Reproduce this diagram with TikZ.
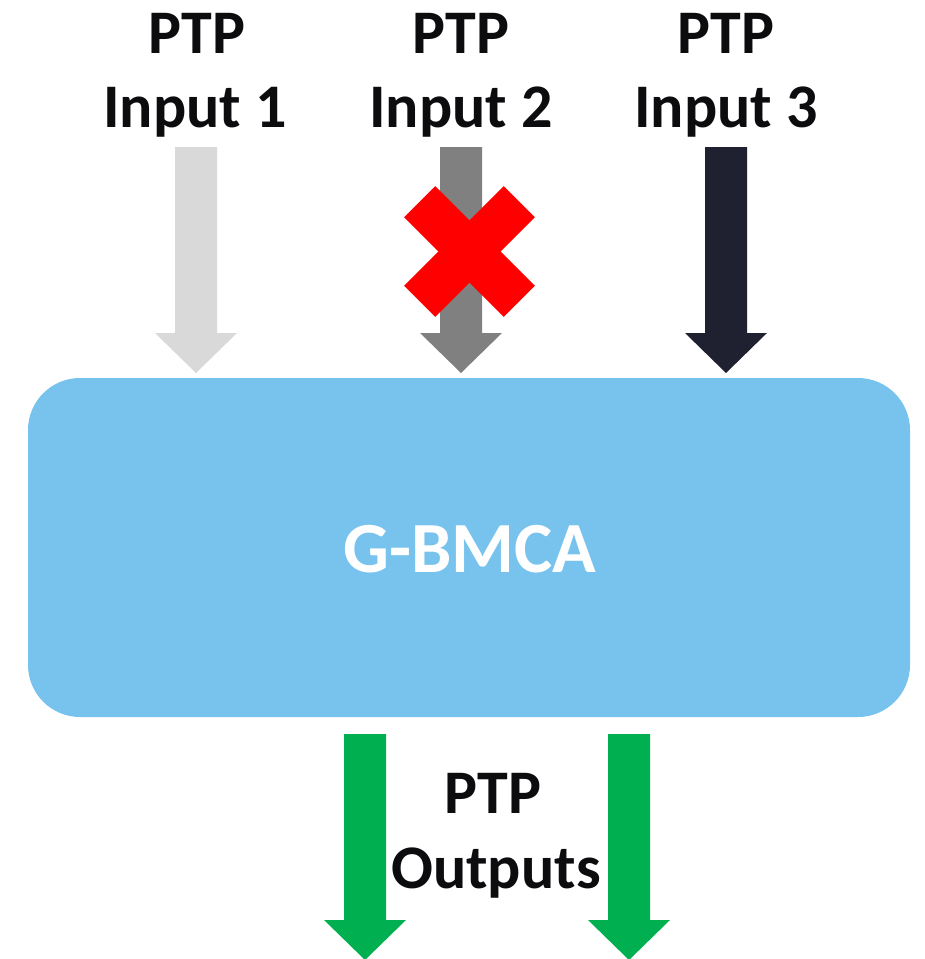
\documentclass[tikz,border=0pt]{standalone}
\usepackage{fontspec}
\setmainfont{Carlito}
\definecolor{lgray}{HTML}{D9D9D9}
\definecolor{mgray}{HTML}{808080}
\definecolor{dnavy}{HTML}{1F2130}
\definecolor{xred}{HTML}{FF0000}
\definecolor{boxblue}{HTML}{78C3ED}
\definecolor{xgreen}{HTML}{00B050}
\definecolor{txt}{HTML}{0C0C0F}
\begin{document}
\begin{tikzpicture}[x=1pt,y=-1pt,
  lbl/.style={font=\fontsize{62}{74}\selectfont\bfseries, text=txt, inner sep=0pt, anchor=base},
  blockarrow/.pic={\fill (-21,0) -- (21,0) -- (21,186) -- (41,186) -- (0,226) -- (-41,186) -- (-21,186) -- cycle;},
  mainbox/.style={fill=boxblue, rounded corners=52pt, minimum width=882pt, minimum height=339pt,
    inner sep=0pt, text=white, font=\fontsize{72}{86}\selectfont\bfseries}]
\useasboundingbox (0,0) rectangle (925,959);
% labels
\node[lbl] (p1) at (197,53) {PTP};
\node[lbl] (i1) at (195,127) {Input 1};
\node[lbl] (p2) at (461,53) {PTP};
\node[lbl] (i2) at (461,127) {Input 2};
\node[lbl] (p3) at (726,53) {PTP};
\node[lbl] (i3) at (726,127) {Input 3};
% box
\node[mainbox] (g) at (469,547.5) {};
\node[font=\fontsize{72}{86}\selectfont\bfseries, text=white, inner sep=0pt, anchor=base] (gt) at (470,572) {G-BMCA};
% input arrows
\coordinate (a1) at (196,147);
\coordinate (a2) at (461,147);
\coordinate (a3) at (726,147);
\pic[lgray] at (a1) {blockarrow};
\pic[mgray] at (a2) {blockarrow};
\pic[dnavy] at (a3) {blockarrow};
% cross
\coordinate (x) at (469.5,251.5);
\fill[xred, shift={(x)}, rotate=45] (-70.5,-22) rectangle (70.5,22);
\fill[xred, shift={(x)}, rotate=-45] (-70.5,-22) rectangle (70.5,22);
% output arrows
\coordinate (o1) at (365,734);
\coordinate (o2) at (629,734);
\pic[xgreen] at (o1) {blockarrow};
\pic[xgreen] at (o2) {blockarrow};
% output label
\node[lbl] (po) at (493,813) {PTP};
\node[lbl] (oo) at (496,888) {Outputs};
\end{tikzpicture}
\end{document}
